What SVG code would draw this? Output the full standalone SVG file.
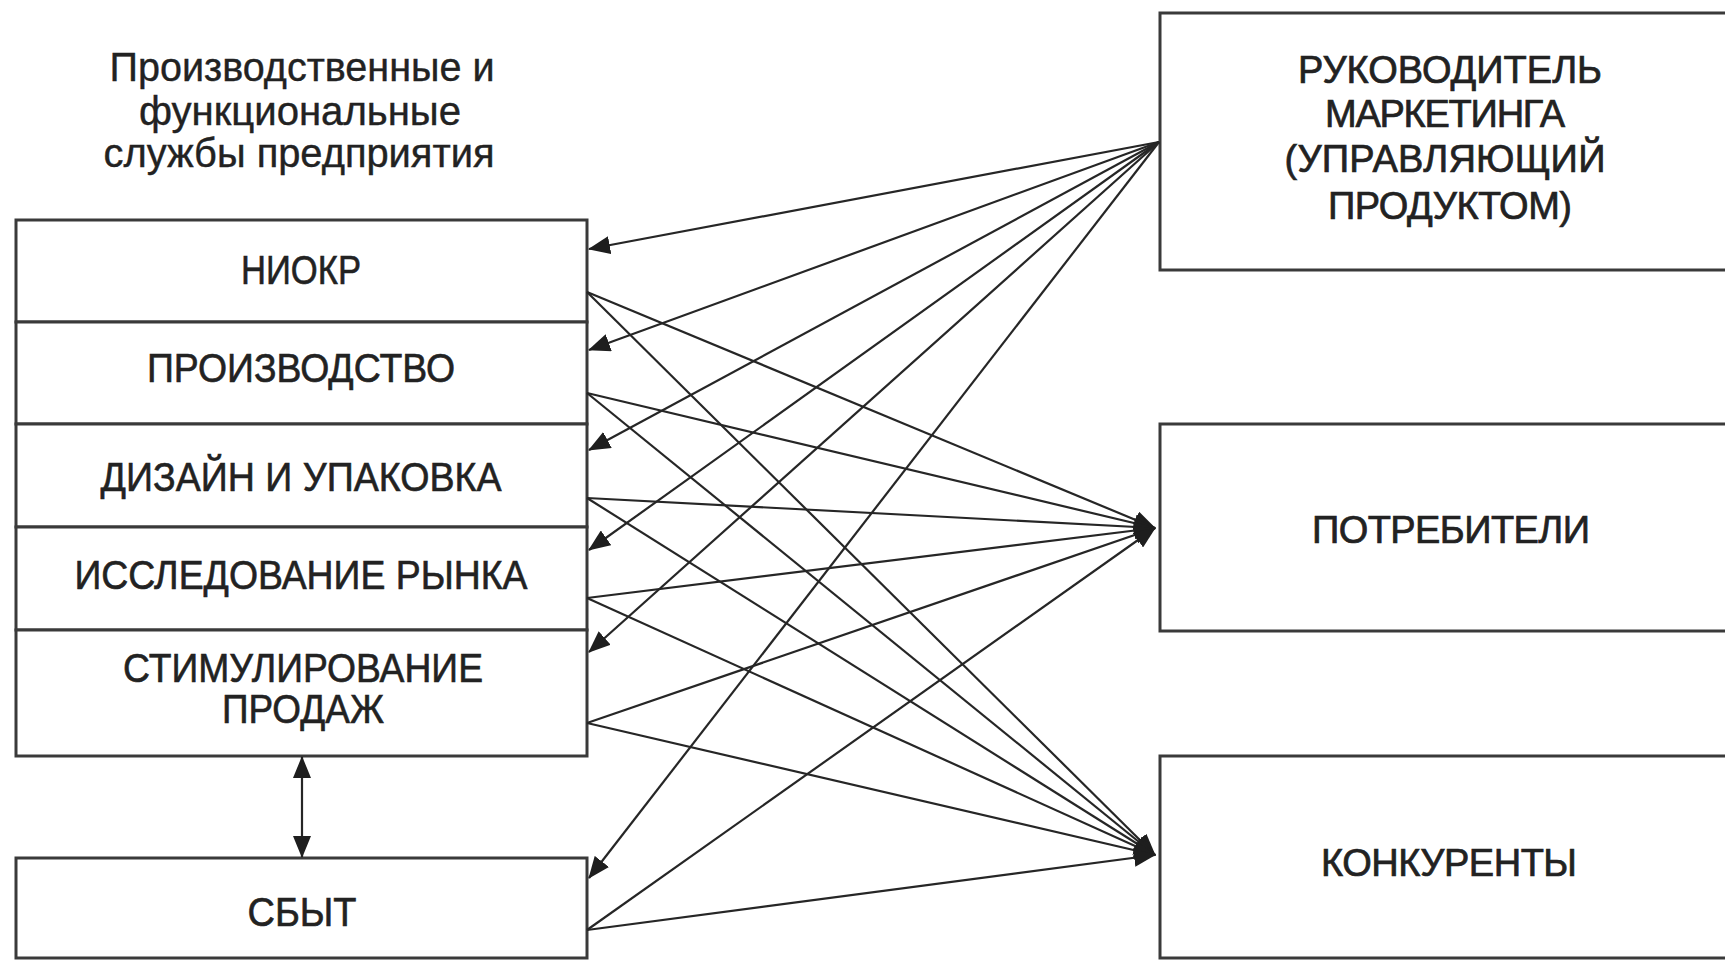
<svg xmlns="http://www.w3.org/2000/svg" width="1725" height="961" viewBox="0 0 1725 961">
<style>
.box{fill:#fff;stroke:#3a3a3a;stroke-width:3}
.lt{font-family:"Liberation Sans",Arial,sans-serif;font-size:40px;fill:#222;stroke:#222;stroke-width:0.6;text-anchor:middle}
.rt{font-family:"Liberation Sans",Arial,sans-serif;font-size:38px;fill:#222;stroke:#222;stroke-width:0.7;text-anchor:middle}
.ttl{font-family:"Liberation Sans",Arial,sans-serif;font-size:40px;fill:#222;stroke:#222;stroke-width:0.4;text-anchor:middle}
.c{stroke:#262626;stroke-width:2.2;fill:none}
</style>
<defs>
<marker id="ah" viewBox="0 0 22 18" refX="21" refY="9" markerWidth="22" markerHeight="18" markerUnits="userSpaceOnUse" orient="auto-start-reverse">
<path d="M0,0 L22,9 L0,18 z" fill="#1e1e1e"/>
</marker>
</defs>
<rect width="1725" height="961" fill="#fff"/>

<g id="title">
<text class="ttl" x="302" y="81" textLength="385" lengthAdjust="spacingAndGlyphs">Производственные и</text>
<text class="ttl" x="300" y="125" textLength="322" lengthAdjust="spacingAndGlyphs">функциональные</text>
<text class="ttl" x="299" y="167" textLength="391" lengthAdjust="spacingAndGlyphs">службы предприятия</text>
</g>

<g id="niokr">
<rect class="box" x="16" y="220" width="571" height="102"/>
<text class="lt" x="301" y="284" textLength="120" lengthAdjust="spacingAndGlyphs">НИОКР</text>
</g>
<g id="proizvodstvo">
<rect class="box" x="16" y="322" width="571" height="102"/>
<text class="lt" x="301" y="382" textLength="308" lengthAdjust="spacingAndGlyphs">ПРОИЗВОДСТВО</text>
</g>
<g id="dizain">
<rect class="box" x="16" y="424" width="571" height="103"/>
<text class="lt" x="301" y="491" textLength="401" lengthAdjust="spacingAndGlyphs">ДИЗАЙН И УПАКОВКА</text>
</g>
<g id="issledovanie">
<rect class="box" x="16" y="527" width="571" height="103"/>
<text class="lt" x="301" y="589" textLength="453" lengthAdjust="spacingAndGlyphs">ИССЛЕДОВАНИЕ РЫНКА</text>
</g>
<g id="stimulirovanie">
<rect class="box" x="16" y="630" width="571" height="126"/>
<text class="lt" x="303" y="682" textLength="360" lengthAdjust="spacingAndGlyphs">СТИМУЛИРОВАНИЕ</text>
<text class="lt" x="303" y="723" textLength="162" lengthAdjust="spacingAndGlyphs">ПРОДАЖ</text>
</g>
<g id="sbyt">
<rect class="box" x="16" y="858" width="571" height="100"/>
<text class="lt" x="302" y="926" textLength="109" lengthAdjust="spacingAndGlyphs">СБЫТ</text>
</g>

<g id="rukovoditel">
<rect class="box" x="1160" y="13" width="600" height="257"/>
<text class="rt" x="1450" y="83" textLength="304" lengthAdjust="spacing">РУКОВОДИТЕЛЬ</text>
<text class="rt" x="1445" y="127" textLength="240" lengthAdjust="spacing">МАРКЕТИНГА</text>
<text class="rt" x="1445" y="172" textLength="321" lengthAdjust="spacing">(УПРАВЛЯЮЩИЙ</text>
<text class="rt" x="1450" y="219" textLength="244" lengthAdjust="spacing">ПРОДУКТОМ)</text>
</g>
<g id="potrebiteli">
<rect class="box" x="1160" y="424" width="600" height="207"/>
<text class="rt" x="1451" y="543" font-size="40" textLength="278" lengthAdjust="spacing">ПОТРЕБИТЕЛИ</text>
</g>
<g id="konkurenty">
<rect class="box" x="1160" y="756" width="600" height="202"/>
<text class="rt" x="1449" y="876" font-size="40" textLength="256" lengthAdjust="spacing">КОНКУРЕНТЫ</text>
</g>

<g id="connectors" class="c" marker-end="url(#ah)">
<line x1="1159" y1="142" x2="589" y2="249"/>
<line x1="1159" y1="142" x2="589" y2="350"/>
<line x1="1159" y1="142" x2="589" y2="450"/>
<line x1="1159" y1="142" x2="589" y2="550"/>
<line x1="1159" y1="142" x2="589" y2="652"/>
<line x1="1159" y1="142" x2="589" y2="878"/>

<line x1="587" y1="292" x2="1155" y2="528"/>
<line x1="587" y1="393" x2="1155" y2="528"/>
<line x1="587" y1="498" x2="1155" y2="528"/>
<line x1="587" y1="598" x2="1155" y2="528"/>
<line x1="587" y1="723" x2="1155" y2="528"/>
<line x1="587" y1="930" x2="1155" y2="528"/>

<line x1="587" y1="292" x2="1155" y2="855"/>
<line x1="587" y1="393" x2="1155" y2="855"/>
<line x1="587" y1="498" x2="1155" y2="855"/>
<line x1="587" y1="598" x2="1155" y2="855"/>
<line x1="587" y1="723" x2="1155" y2="855"/>
<line x1="587" y1="930" x2="1155" y2="855"/>

<line x1="302" y1="757" x2="302" y2="857" marker-start="url(#ah)"/>
</g>
</svg>
